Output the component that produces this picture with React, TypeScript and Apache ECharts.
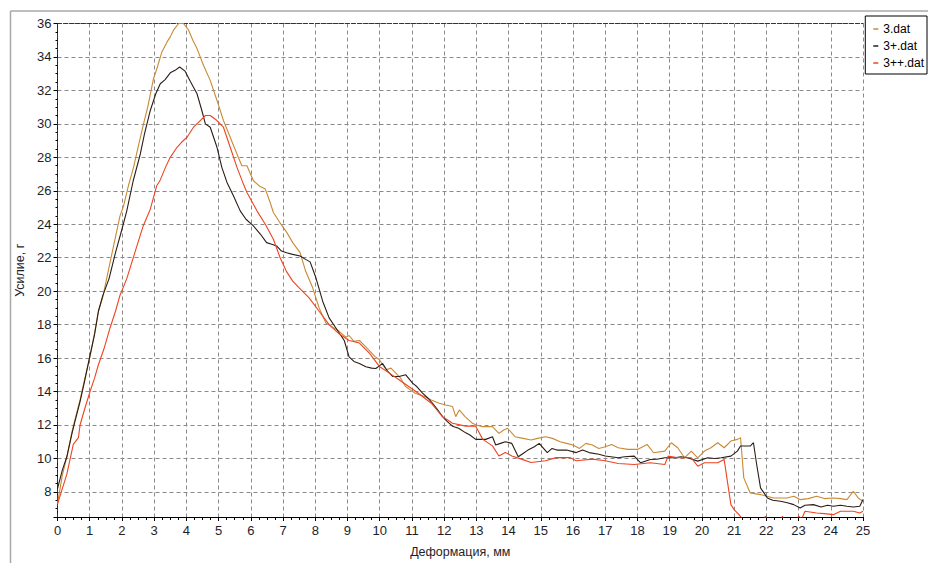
import React, { useEffect, useRef } from "react";
import * as echarts from "echarts";

const seriesNames = ["3.dat", "3+.dat", "3++.dat"];
const seriesColors = ["#c98a32", "#2b1d17", "#ee4422"];

const data3: [number, number][] = [
  [0, 7.3], [0.15, 9.0], [0.29, 10.1], [0.45, 11.6], [0.54, 12.3], [0.7, 13.5], [0.85, 14.8], [1.0, 16.0],
  [1.15, 17.5], [1.27, 18.8], [1.4, 19.6], [1.53, 20.8], [1.75, 22.8], [1.94, 24.5], [2.05, 25.1], [2.2, 26.3],
  [2.36, 27.4], [2.5, 28.6], [2.67, 30.0], [2.8, 31.0], [2.98, 32.7], [3.1, 33.4], [3.24, 34.3], [3.4, 34.9],
  [3.5, 35.2], [3.6, 35.6], [3.76, 36.0], [3.91, 36.0], [4.07, 35.6], [4.2, 35.0], [4.33, 34.5], [4.53, 33.5],
  [4.74, 32.6], [4.95, 31.4], [5.15, 30.2], [5.36, 29.2], [5.57, 28.2], [5.72, 27.5], [5.88, 27.5], [6.08, 26.6],
  [6.29, 26.25], [6.45, 26.1], [6.6, 25.3], [6.7, 24.7], [6.9, 24.1], [7.12, 23.5], [7.3, 22.9], [7.53, 22.3],
  [7.7, 21.2], [7.92, 20.2], [8.12, 19.0], [8.33, 18.1], [8.54, 17.85], [8.74, 17.6], [8.95, 17.25], [9.05, 17.35],
  [9.2, 17.0], [9.37, 17.05], [9.5, 16.8], [9.68, 16.45], [9.85, 16.1], [9.99, 15.9], [10.2, 15.3], [10.35, 15.4],
  [10.5, 15.1], [10.65, 14.8], [10.8, 14.3], [10.95, 14.1], [11.1, 13.9], [11.4, 13.7], [11.6, 13.5], [11.85, 13.3],
  [12.05, 13.2], [12.26, 13.1], [12.36, 12.5], [12.47, 12.9], [12.65, 12.5], [12.88, 12.1], [13.0, 12.0], [13.19, 11.9],
  [13.5, 11.9], [13.7, 11.5], [13.85, 11.7], [13.97, 11.8], [14.2, 11.3], [14.45, 11.2], [14.7, 11.1], [14.9, 11.2],
  [15.15, 11.3], [15.36, 11.2], [15.6, 11.0], [15.8, 10.9], [16.0, 10.8], [16.2, 10.6], [16.4, 10.9], [16.6, 10.8],
  [16.8, 10.6], [17.0, 10.7], [17.2, 10.84], [17.4, 10.64], [17.7, 10.54], [18.0, 10.54], [18.3, 10.84], [18.5, 10.34],
  [18.85, 10.44], [19.05, 10.94], [19.25, 10.64], [19.46, 10.04], [19.67, 10.44], [19.87, 10.04], [20.08, 10.44],
  [20.28, 10.64], [20.49, 10.94], [20.69, 10.64], [20.9, 11.04], [21.1, 11.14], [21.2, 11.24], [21.3, 8.84],
  [21.5, 7.94], [21.82, 7.84], [22.23, 7.64], [22.64, 7.64], [22.85, 7.74], [23.05, 7.54], [23.3, 7.6], [23.56, 7.74],
  [23.8, 7.6], [24.08, 7.64], [24.3, 7.6], [24.5, 7.54], [24.7, 8.04], [24.85, 7.64], [25, 7.44],
];

const data3p: [number, number][] = [
  [0, 8.2], [0.15, 9.3], [0.29, 10.1], [0.45, 11.5], [0.54, 12.2], [0.7, 13.4], [0.85, 14.7], [0.99, 16.0],
  [1.15, 17.4], [1.27, 18.8], [1.4, 19.7], [1.6, 20.75], [1.8, 22.3], [2.0, 23.7], [2.15, 24.8], [2.35, 26.6],
  [2.57, 28.2], [2.7, 29.4], [2.88, 30.8], [3.05, 31.8], [3.19, 32.4], [3.34, 32.65], [3.5, 33.05], [3.65, 33.2],
  [3.79, 33.4], [3.96, 33.15], [4.12, 32.55], [4.33, 31.8], [4.48, 30.8], [4.59, 30.0], [4.74, 29.8], [4.95, 28.6],
  [5.1, 27.4], [5.26, 26.5], [5.46, 25.7], [5.67, 24.8], [5.85, 24.3], [6.08, 23.9], [6.3, 23.4], [6.49, 22.9],
  [6.65, 22.8], [6.8, 22.7], [6.95, 22.4], [7.11, 22.3], [7.3, 22.2], [7.53, 22.1], [7.7, 21.9], [7.84, 21.75],
  [8.02, 20.8], [8.23, 19.4], [8.43, 18.4], [8.64, 17.8], [8.9, 17.05], [9.05, 16.07], [9.2, 15.8], [9.37, 15.68],
  [9.57, 15.48], [9.75, 15.4], [9.88, 15.38], [10.09, 15.68], [10.25, 15.2], [10.4, 14.9], [10.6, 14.9], [10.81, 15.0],
  [11.02, 14.5], [11.15, 14.3], [11.33, 13.9], [11.5, 13.6], [11.64, 13.3], [11.8, 12.9], [11.95, 12.5], [12.1, 12.2],
  [12.26, 11.93], [12.45, 11.8], [12.67, 11.53], [12.8, 11.4], [12.98, 11.14], [13.29, 11.14], [13.5, 11.3], [13.6, 10.8],
  [13.75, 10.9], [13.9, 11.0], [14.1, 10.9], [14.3, 10.1], [14.45, 10.3], [14.6, 10.5], [14.8, 10.7], [14.95, 10.9],
  [15.2, 10.35], [15.35, 10.6], [15.5, 10.5], [15.8, 10.5], [16.1, 10.35], [16.3, 10.5], [16.5, 10.35], [16.8, 10.25],
  [17.0, 10.15], [17.4, 10.04], [17.6, 10.1], [17.9, 10.14], [18.1, 9.74], [18.4, 9.94], [18.6, 9.95], [18.85, 10.04],
  [19.15, 10.04], [19.35, 10.1], [19.56, 10.04], [19.87, 9.84], [20.18, 10.04], [20.4, 10.0], [20.6, 10.04], [20.9, 10.14],
  [21.1, 10.44], [21.2, 10.74], [21.5, 10.74], [21.6, 10.94], [21.7, 9.64], [21.82, 8.24], [22.03, 7.64], [22.2, 7.5],
  [22.44, 7.44], [22.65, 7.35], [22.85, 7.24], [23.05, 7.04], [23.2, 7.2], [23.46, 7.24], [23.7, 7.1], [23.9, 7.2],
  [24.08, 7.14], [24.3, 7.2], [24.5, 7.14], [24.7, 7.1], [24.9, 7.14], [25, 7.54],
];

const data3pp: [number, number][] = [
  [0, 7.27], [0.15, 8.2], [0.29, 9.06], [0.49, 10.84], [0.65, 11.24], [0.7, 12.0], [0.85, 13.0], [1.01, 14.0],
  [1.15, 14.8], [1.27, 15.6], [1.45, 16.6], [1.63, 17.8], [1.8, 18.8], [1.94, 19.76], [2.15, 20.75], [2.4, 22.3],
  [2.66, 23.9], [2.88, 24.9], [3.08, 26.3], [3.19, 26.65], [3.35, 27.4], [3.5, 28.0], [3.71, 28.6], [3.85, 28.9],
  [4.02, 29.2], [4.22, 29.8], [4.43, 30.2], [4.59, 30.5], [4.74, 30.5], [4.95, 30.2], [5.15, 29.8], [5.36, 28.6],
  [5.57, 27.4], [5.75, 26.5], [5.88, 25.9], [6.05, 25.3], [6.19, 24.8], [6.45, 24.0], [6.7, 23.1], [6.91, 22.0],
  [7.1, 21.2], [7.3, 20.6], [7.5, 20.2], [7.81, 19.6], [8.12, 18.8], [8.43, 18.0], [8.74, 17.45], [9.05, 17.05],
  [9.37, 16.9], [9.68, 16.3], [9.99, 15.5], [10.3, 15.1], [10.6, 14.7], [10.9, 14.3], [11.2, 13.9], [11.6, 13.3],
  [11.95, 12.5], [12.26, 12.1], [12.67, 11.93], [12.98, 11.93], [13.2, 11.14], [13.5, 10.75], [13.7, 10.15], [13.9, 10.35],
  [14.1, 10.15], [14.4, 9.96], [14.7, 9.76], [15.15, 9.86], [15.47, 10.05], [15.9, 10.05], [16.1, 9.86], [16.6, 9.96],
  [17.0, 9.86], [17.4, 9.7], [17.9, 9.64], [18.4, 9.74], [18.85, 9.64], [18.95, 10.14], [19.26, 10.04], [19.67, 10.04],
  [19.87, 9.54], [20.08, 9.74], [20.49, 9.74], [20.69, 9.94], [20.79, 8.64], [20.9, 7.24], [21.0, 6.94], [21.15, 6.64],
  [21.3, 6.3], [21.9, 6.3], [21.97, 6.55], [22.05, 6.3], [22.45, 6.3], [22.5, 6.55], [22.55, 6.3], [22.95, 6.3],
  [23.0, 6.55], [23.1, 6.4], [23.2, 6.84], [23.56, 6.74], [23.8, 6.7], [24.08, 6.64], [24.3, 6.84], [24.7, 6.84],
  [24.9, 6.74], [25, 6.84],
];

const allData = [data3, data3p, data3pp];

const X_MIN = 0;
const X_MAX = 25;
const Y_MIN = 6.5;
const Y_MAX = 36;
const xAxisName = "Деформация, мм";
const yAxisName = "Усилие, г";

const FONT = "'Liberation Sans', Arial, sans-serif";
const NARROW = "'Liberation Sans Narrow', 'Liberation Sans', Arial, sans-serif";
const TXT = "#1e1e2a";

export default function App() {
  const ref = useRef<HTMLDivElement>(null);
  useEffect(() => {
    if (!ref.current) return;
    const chart = echarts.init(ref.current, undefined, { renderer: "svg" });
    const gridDash = { color: "#8a8a8a", type: [4, 3] as number[], width: 1 };
    chart.setOption({
      animation: false,
      backgroundColor: "#ffffff",
      textStyle: { fontFamily: FONT },
      grid: { left: 57.5, right: 65, top: 23.5, bottom: 44 },
      legend: {
        data: seriesNames,
        orient: "vertical",
        right: 1,
        top: 16,
        borderColor: "#000",
        borderWidth: 1,
        borderRadius: 0,
        padding: [7, 3, 5, 8],
        itemGap: 5,
        itemWidth: 5,
        itemHeight: 1.5,
        itemTextGap: 5,
        icon: "rect",
        itemStyle: { borderWidth: 0 },
        textStyle: { fontFamily: FONT, fontSize: 12, color: "#000" },
      },
      graphic: [
        { type: "line", shape: { x1: 10.5, y1: 11, x2: 928, y2: 11 }, style: { stroke: "#a8a8a8", lineWidth: 1.5 } },
        { type: "line", shape: { x1: 10.5, y1: 11, x2: 10.5, y2: 563 }, style: { stroke: "#a8a8a8", lineWidth: 1.5 } },
      ],
      xAxis: [
        {
          type: "value",
          min: X_MIN,
          max: X_MAX,
          interval: 1,
          name: xAxisName,
          nameLocation: "middle",
          nameGap: 28,
          nameTextStyle: { fontFamily: FONT, fontSize: 12.5, color: TXT },
          axisLine: { lineStyle: { color: "#000", width: 1.2 } },
          axisTick: { show: true, length: 4, lineStyle: { color: "#000" } },
          minorTick: { show: true, splitNumber: 4, length: 3, lineStyle: { color: "#000" } },
          axisLabel: { fontFamily: NARROW, fontSize: 13, color: TXT, margin: 7 },
          splitLine: { show: true, lineStyle: gridDash },
        },
        {
          type: "value",
          position: "top",
          min: X_MIN,
          max: X_MAX,
          interval: 1,
          axisLine: { show: true, lineStyle: { color: "#333", type: [4, 2], width: 1.2 } },
          axisTick: { show: false },
          axisLabel: { show: false },
          splitLine: { show: false },
        },
      ],
      yAxis: [
        {
          type: "value",
          min: Y_MIN,
          max: Y_MAX,
          splitNumber: 15,
          minInterval: 2,
          maxInterval: 2,
          name: yAxisName,
          nameLocation: "middle",
          nameGap: 18,
          nameRotate: 90,
          nameTextStyle: { fontFamily: FONT, fontSize: 12.5, color: TXT },
          axisLine: { show: true, lineStyle: { color: "#000", type: [3, 1] } },
          axisTick: { show: true, length: 4, lineStyle: { color: "#000" } },
          minorTick: { show: true, splitNumber: 4, length: 2, lineStyle: { color: "#000" } },
          axisLabel: { fontFamily: NARROW, fontSize: 13, color: TXT, margin: 6, showMinLabel: false },
          splitLine: { show: true, lineStyle: gridDash },
        },
        {
          type: "value",
          position: "right",
          min: Y_MIN,
          max: Y_MAX,
          splitNumber: 15,
          minInterval: 2,
          maxInterval: 2,
          axisLine: { show: true, lineStyle: { color: "#333", type: [4, 2] } },
          axisTick: { show: false },
          axisLabel: { show: false },
          splitLine: { show: false },
        },
      ],
      series: seriesNames.map((name, i) => ({
        name,
        type: "line",
        data: allData[i],
        showSymbol: false,
        symbol: "none",
        clip: true,
        color: seriesColors[i],
        lineStyle: { color: seriesColors[i], width: 1.1 },
      })),
    });
    return () => chart.dispose();
  }, []);
  return (
    <div
      ref={ref}
      style={{ position: "fixed", left: 0, top: 0, width: 928, height: 563, background: "#fff" }}
    />
  );
}
